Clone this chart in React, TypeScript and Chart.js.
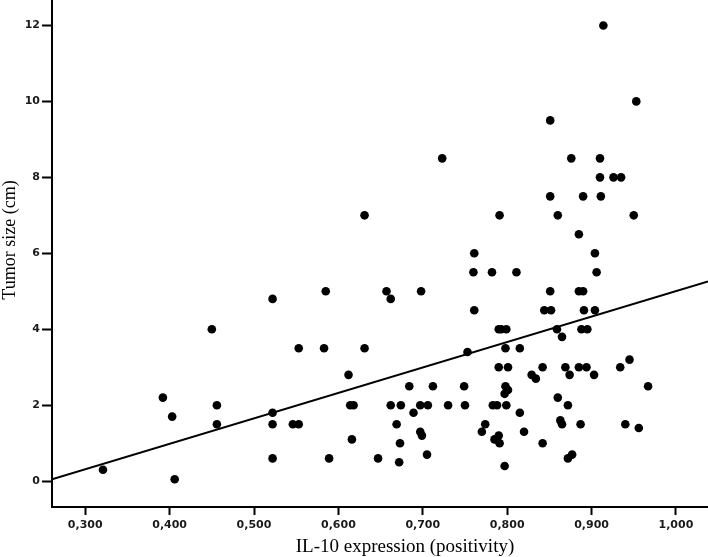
import React, { useEffect, useRef } from "react";
import { Chart, registerables } from "chart.js";

Chart.register(...registerables);

// IL-10 expression (positivity) for each tumour
const il10Expression: number[] = [
  0.321, 0.406, 0.392, 0.403, 0.450, 0.456, 0.456, 0.522, 0.522, 0.522,
  0.522, 0.553, 0.583, 0.585, 0.546, 0.553, 0.589, 0.612, 0.614, 0.618,
  0.616, 0.761, 0.904, 0.760, 0.782, 0.811, 0.906, 0.657, 0.662, 0.698,
  0.761, 0.851, 0.885, 0.890, 0.844, 0.852, 0.891, 0.904, 0.790, 0.793,
  0.799, 0.859, 0.865, 0.888, 0.895, 0.631, 0.753, 0.798, 0.815, 0.945,
  0.934, 0.790, 0.801, 0.842, 0.869, 0.885, 0.894, 0.829, 0.834, 0.874,
  0.903, 0.967, 0.684, 0.712, 0.749, 0.798, 0.801, 0.797, 0.662, 0.674,
  0.697, 0.706, 0.730, 0.750, 0.783, 0.788, 0.799, 0.689, 0.815, 0.860,
  0.872, 0.669, 0.774, 0.863, 0.865, 0.887, 0.940, 0.956, 0.673, 0.697,
  0.699, 0.770, 0.790, 0.785, 0.791, 0.820, 0.842, 0.647, 0.672, 0.705,
  0.797, 0.872, 0.877, 0.914, 0.953, 0.851, 0.723, 0.876, 0.910, 0.910,
  0.926, 0.935, 0.851, 0.890, 0.911, 0.631, 0.791, 0.860, 0.950, 0.885,
];

// Tumor size (cm) for each tumour, same order
const tumorSize: number[] = [
  0.3, 0.05, 2.2, 1.7, 4.0, 2.0, 1.5, 4.8, 1.8, 1.5,
  0.6, 3.5, 3.5, 5.0, 1.5, 1.5, 0.6, 2.8, 2.0, 2.0,
  1.1, 6.0, 6.0, 5.5, 5.5, 5.5, 5.5, 5.0, 4.8, 5.0,
  4.5, 5.0, 5.0, 5.0, 4.5, 4.5, 4.5, 4.5, 4.0, 4.0,
  4.0, 4.0, 3.8, 4.0, 4.0, 3.5, 3.4, 3.5, 3.5, 3.2,
  3.0, 3.0, 3.0, 3.0, 3.0, 3.0, 3.0, 2.8, 2.7, 2.8,
  2.8, 2.5, 2.5, 2.5, 2.5, 2.5, 2.4, 2.3, 2.0, 2.0,
  2.0, 2.0, 2.0, 2.0, 2.0, 2.0, 2.0, 1.8, 1.8, 2.2,
  2.0, 1.5, 1.5, 1.6, 1.5, 1.5, 1.5, 1.4, 1.0, 1.3,
  1.2, 1.3, 1.2, 1.1, 1.0, 1.3, 1.0, 0.6, 0.5, 0.7,
  0.4, 0.6, 0.7, 12.0, 10.0, 9.5, 8.5, 8.5, 8.5, 8.0,
  8.0, 8.0, 7.5, 7.5, 7.5, 7.0, 7.0, 7.0, 7.0, 6.5,
];

// Fitted regression line, read at the two ends of the x axis
const fitX: number[] = [0.2606, 1.038];
const fitY: number[] = [0.05, 5.26];

const xTickValues: number[] = [0.3, 0.4, 0.5, 0.6, 0.7, 0.8, 0.9, 1.0];
const yTickValues: number[] = [0, 2, 4, 6, 8, 10, 12];

const xTitle = "IL-10 expression (positivity)";
const yTitle = "Tumor size (cm)";

const X_MIN = 0.2606;
const X_MAX = 1.038;
const Y_MIN = -0.68;
const Y_MAX = 12.67;

export default function App() {
  const canvasRef = useRef<HTMLCanvasElement | null>(null);

  useEffect(() => {
    const canvas = canvasRef.current;
    if (!canvas) return;

    const titlePlugin = {
      id: "axisTitles",
      afterDraw(chart: any) {
        const { ctx } = chart;
        ctx.save();
        ctx.fillStyle = "#000";
        ctx.textAlign = "center";
        ctx.textBaseline = "middle";
        ctx.font = '19px "Liberation Serif", "Times New Roman", serif';
        ctx.fillText(xTitle, 405, 547);
        ctx.translate(10, 240);
        ctx.rotate(-Math.PI / 2);
        ctx.font = '18px "Liberation Serif", "Times New Roman", serif';
        ctx.fillText(yTitle, 0, 0);
        ctx.restore();
      },
    };

    const tickFont = {
      family: '"DejaVu Sans", Verdana, sans-serif',
      size: 11,
      weight: "bold" as const,
    };

    const chart = new Chart(canvas, {
      type: "scatter",
      data: {
        datasets: [
          {
            type: "scatter",
            data: il10Expression.map((x, i) => ({ x, y: tumorSize[i] })),
            backgroundColor: "#000",
            borderColor: "#000",
            borderWidth: 0,
            pointRadius: 4.3,
            pointHoverRadius: 4.3,
            clip: false,
          } as any,
          {
            type: "line",
            data: fitX.map((x, i) => ({ x, y: fitY[i] })),
            borderColor: "#000",
            borderWidth: 2,
            pointRadius: 0,
            fill: false,
            showLine: true,
          } as any,
        ],
      },
      options: {
        animation: false,
        responsive: false,
        events: [],
        layout: { padding: 0, autoPadding: false },
        plugins: {
          legend: { display: false },
          tooltip: { enabled: false },
        },
        scales: {
          x: {
            type: "linear",
            min: X_MIN,
            max: X_MAX,
            afterBuildTicks: (scale: any) => {
              scale.ticks = xTickValues.map((v) => ({ value: v }));
            },
            afterFit: (scale: any) => {
              scale.height = 50;
              scale.paddingLeft = 0;
              scale.paddingRight = 0;
            },
            ticks: {
              autoSkip: false,
              maxRotation: 0,
              padding: 4,
              color: "#1a1a1a",
              font: tickFont,
              callback: (v: any) => Number(v).toFixed(3).replace(".", ","),
            },
            grid: {
              drawOnChartArea: false,
              drawTicks: true,
              tickLength: 8,
              tickWidth: 2,
              color: "#000",
            },
            border: { display: true, color: "#000", width: 2 },
          },
          y: {
            type: "linear",
            min: Y_MIN,
            max: Y_MAX,
            afterBuildTicks: (scale: any) => {
              scale.ticks = yTickValues.map((v) => ({ value: v }));
            },
            afterFit: (scale: any) => {
              scale.width = 52;
              scale.paddingTop = 0;
              scale.paddingBottom = 0;
            },
            ticks: {
              autoSkip: false,
              padding: 2,
              color: "#1a1a1a",
              font: tickFont,
              callback: (v: any) => String(v),
            },
            grid: {
              drawOnChartArea: false,
              drawTicks: true,
              tickLength: 10,
              tickWidth: 2,
              color: "#000",
            },
            border: { display: true, color: "#000", width: 2 },
          },
        },
      },
      plugins: [titlePlugin],
    });

    return () => {
      chart.destroy();
    };
  }, []);

  return (
    <div style={{ position: "absolute", left: 0, top: 0, width: 708, height: 557, background: "#fff" }}>
      <canvas ref={canvasRef} width={708} height={557} />
    </div>
  );
}
